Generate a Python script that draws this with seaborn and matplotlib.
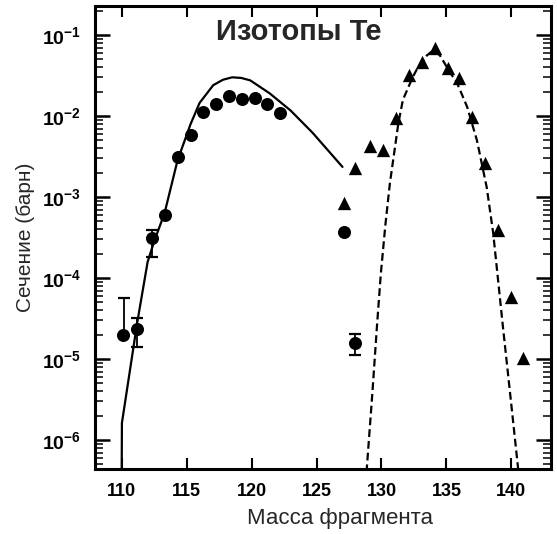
import numpy as np
import pandas as pd
import matplotlib
matplotlib.use("Agg")
import matplotlib.pyplot as plt
import matplotlib.ticker as mticker
import seaborn as sns

# ---- data ----
circle_mass = [110.1, 111.2, 112.3, 113.3, 114.3, 115.3, 116.3, 117.3, 118.3,
               119.3, 120.3, 121.2, 122.2, 127.1, 128.0]
circle_sigma = [2.0e-5, 2.35e-5, 3.1e-4, 6.0e-4, 3.1e-3, 5.9e-3, 1.12e-2, 1.4e-2,
                1.77e-2, 1.6e-2, 1.66e-2, 1.4e-2, 1.1e-2, 3.7e-4, 1.58e-5]

err_mass = [110.2, 111.2, 112.3, 128.0]
err_sigma = [2.0e-5, 2.35e-5, 3.1e-4, 1.58e-5]
err_low = [2.0e-5, 1.4e-5, 1.8e-4, 1.12e-5]
err_high = [5.6e-5, 3.2e-5, 3.9e-4, 2.04e-5]

tri_mass = [127.1, 128, 129.1, 130.1, 131.1, 132.1, 133.1, 134.1, 135.1, 136,
            137, 138, 139, 140, 140.9]
tri_sigma = [8.5e-4, 2.3e-3, 4.2e-3, 3.8e-3, 9.5e-3, 3.2e-2, 4.6e-2, 6.9e-2,
             3.9e-2, 2.95e-2, 9.8e-3, 2.6e-3, 3.9e-4, 5.9e-5, 1.02e-5]

solid_mass = [110.0, 110.02, 111.2, 112.0, 112.5, 113.3, 114.3, 115.3, 116.0,
              117.05, 117.8, 118.5, 119.2, 119.9, 121.4, 123.0, 124.7, 127.0]
solid_sigma = [3e-7, 1.62e-6, 2.82e-5, 1.58e-4, 2.82e-4, 6.3e-4, 2.82e-3, 7.9e-3,
               1.45e-2, 2.4e-2, 2.8e-2, 3.0e-2, 2.95e-2, 2.75e-2, 1.9e-2, 1.17e-2,
               6.2e-3, 2.35e-3]

dashed_mass = [128.85, 129.3, 129.65, 129.95, 130.3, 130.65, 131.3, 131.65, 132.4,
               132.7, 133.5, 134.0, 134.5, 135.3, 135.8, 136.6, 137.35, 138.1,
               138.6, 139.35, 139.9, 140.55]
dashed_sigma = [4e-7, 3.8e-6, 2.5e-5, 1.12e-4, 4.5e-4, 1.48e-3, 8.1e-3, 1.58e-2,
                3.0e-2, 3.7e-2, 5.6e-2, 6.5e-2, 5.6e-2, 3.4e-2, 2.6e-2, 1.29e-2,
                5.0e-3, 1.32e-3, 3.6e-4, 2.5e-5, 3.8e-6, 4e-7]

x_ticks = [110, 115, 120, 125, 130, 135, 140]
y_ticks = [1e-6, 1e-5, 1e-4, 1e-3, 1e-2, 1e-1]

title_text = "Изотопы Te"
xlabel_text = "Масса фрагмента"
ylabel_text = "Сечение (барн)"

# ---- style ----
sns.set_style("ticks")
plt.rcParams["font.family"] = ["Liberation Sans", "DejaVu Sans"]
plt.rcParams["mathtext.fontset"] = "custom"
plt.rcParams["mathtext.rm"] = "Liberation Sans:bold"
plt.rcParams["mathtext.it"] = "Liberation Sans:bold"
plt.rcParams["mathtext.bf"] = "Liberation Sans:bold"

fig = plt.figure(figsize=(5.57, 5.34), dpi=100)
ax = fig.add_axes([0.1706, 0.1217, 0.8186, 0.8671])

solid_df = pd.DataFrame({"m": solid_mass, "s": solid_sigma})
dashed_df = pd.DataFrame({"m": dashed_mass, "s": dashed_sigma})
circ_df = pd.DataFrame({"m": circle_mass, "s": circle_sigma})
tri_df = pd.DataFrame({"m": tri_mass, "s": tri_sigma})

sns.lineplot(data=solid_df, x="m", y="s", ax=ax, color="black", lw=1.6,
             estimator=None, sort=False)
sns.lineplot(data=dashed_df, x="m", y="s", ax=ax, color="black", lw=1.6,
             estimator=None, sort=False, dashes=False)
ax.lines[-1].set_dashes((3.5, 1.8))

ev = np.array(err_sigma)
ax.errorbar(err_mass, err_sigma,
            yerr=[ev - np.array(err_low), np.array(err_high) - ev],
            fmt="none", ecolor="black", elinewidth=1.3, capsize=4.3, capthick=1.6)

sns.scatterplot(data=circ_df, x="m", y="s", ax=ax, color="black", marker="o",
                s=88, linewidth=0, zorder=5)
sns.scatterplot(data=tri_df, x="m", y="s", ax=ax, color="black", marker="^",
                s=92, linewidth=0, zorder=5)

ax.set_yscale("log")
ax.set_xlim(107.95, 143.05)
ax.set_ylim(4.38e-7, 0.228)

ax.set_xticks(x_ticks)
ax.set_xticklabels([str(t) for t in x_ticks], fontsize=13, fontweight="bold")
ax.yaxis.set_major_locator(mticker.FixedLocator(y_ticks))
ax.yaxis.set_minor_locator(mticker.LogLocator(base=10, subs=np.arange(2, 10)))
ax.yaxis.set_minor_formatter(mticker.NullFormatter())
ax.set_yticklabels([r"$10^{%d}$" % int(np.log10(t)) for t in y_ticks], fontsize=14)

ax.tick_params(axis="x", which="major", direction="in", length=8, width=1.5,
               top=True, bottom=True, pad=10, colors="black")
ax.tick_params(axis="x", which="minor", bottom=False, top=False)
ax.tick_params(axis="y", which="major", direction="in", length=11, width=1.8,
               left=True, right=True, pad=10, colors="black")
ax.tick_params(axis="y", which="minor", direction="in", length=5.5, width=1.3,
               left=True, right=True)

for sp in ax.spines.values():
    sp.set_visible(True)
    sp.set_linewidth(2.2)
    sp.set_color("black")

ax.set_xlabel(xlabel_text, fontsize=16)
ax.set_ylabel(ylabel_text, fontsize=15)
ax.xaxis.label.set_va("center")
ax.yaxis.label.set_va("center")
ax.xaxis.set_label_coords(0.537, -0.106)
ax.yaxis.set_label_coords(-0.153, 0.5)

ax.text(0.446, 0.944, title_text, transform=ax.transAxes, ha="center",
        va="center", fontsize=21, fontweight="bold")

fig.savefig("out.png", dpi=100)
